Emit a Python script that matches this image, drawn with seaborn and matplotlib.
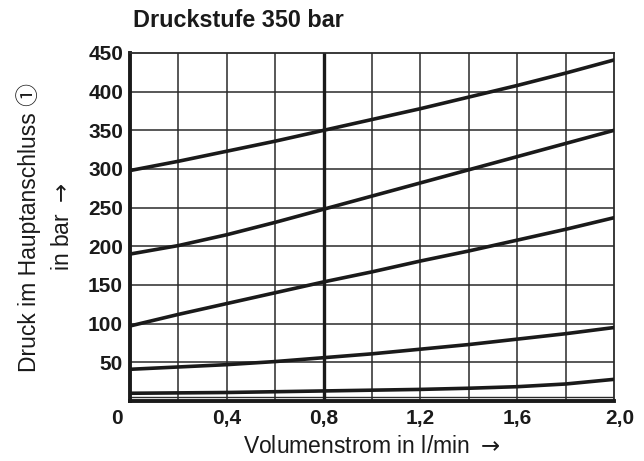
import matplotlib
matplotlib.use('Agg')
import matplotlib.pyplot as plt
from matplotlib.transforms import ScaledTranslation
import seaborn as sns
import pandas as pd
import numpy as np

# Werte
volumenstrom = [0.0, 0.2, 0.4, 0.6, 0.8, 1.0, 1.2, 1.4, 1.6, 1.8, 2.0]
kurve_300 = [298, 310, 323, 336, 350, 364, 378, 393, 408, 424, 441]
kurve_190 = [190, 201, 215, 231, 248, 265, 282, 299, 316, 333, 350]
kurve_100 = [97, 112, 126, 140, 154, 167, 181, 194, 208, 222, 237]
kurve_40 = [41, 44, 47, 51, 56, 61, 67, 73, 80, 87, 95]
kurve_10 = [10, 10.5, 11, 12, 13, 14, 15, 16.5, 18.5, 22, 28]

x_ticks = [0.0, 0.4, 0.8, 1.2, 1.6, 2.0]
x_labels = ['0', '0,4', '0,8', '1,2', '1,6', '2,0']
y_ticks = [50, 100, 150, 200, 250, 300, 350, 400, 450]

kurven = {'300': kurve_300, '190': kurve_190, '100': kurve_100, '40': kurve_40, '10': kurve_10}
df = pd.DataFrame([
    {'x': x, 'p': p, 'kurve': name}
    for name, werte in kurven.items()
    for x, p in zip(volumenstrom, werte)
])

sns.set_style('white')
plt.rcParams['font.family'] = ['Liberation Sans', 'Noto Sans CJK SC', 'DejaVu Sans']
plt.rcParams['mathtext.fontset'] = 'dejavusans'

fig = plt.figure(figsize=(6.44, 4.61), dpi=100)
ax = fig.add_axes([130/644, 1 - 401/461, 484/644, 348/461])

ax.set_xlim(0, 2.0)
ax.set_ylim(0, 450)

# Gitter
gitter = '#2a2a2a'
for gx in np.arange(0.2, 2.0, 0.2):
    ax.axvline(gx, color=gitter, lw=1.1, zorder=1)
for gy in range(50, 450, 50):
    ax.axhline(gy, color=gitter, lw=1.1, zorder=1)
ax.axhline(5, color=gitter, lw=1.0, zorder=1)
ax.axvline(0.8, color='#1a1a1a', lw=2.4, zorder=2)

sns.lineplot(data=df, x='x', y='p', units='kurve', estimator=None,
             color='#1a1a1a', lw=2.6, ax=ax, zorder=3, legend=False)

for side in ['top', 'right']:
    ax.spines[side].set_linewidth(1.3)
    ax.spines[side].set_color(gitter)
for side in ['left', 'bottom']:
    ax.spines[side].set_linewidth(2.8)
    ax.spines[side].set_color('#1a1a1a')

ax.set_xticks(x_ticks)
ax.set_xticklabels(x_labels, fontsize=15, fontweight='bold')
ax.set_yticks(y_ticks)
ax.set_yticklabels([str(v) for v in y_ticks], fontsize=15, fontweight='bold')
ax.tick_params(axis='both', length=0, colors='#1a1a1a')
ax.tick_params(axis='x', pad=6)
ax.tick_params(axis='y', pad=5)

lbls = ax.get_xticklabels()
lbls[0].set_transform(lbls[0].get_transform() + ScaledTranslation(-13/100, 0, fig.dpi_scale_trans))
lbls[-1].set_transform(lbls[-1].get_transform() + ScaledTranslation(6/100, 0, fig.dpi_scale_trans))

ax.set_xlabel('Volumenstrom in l/min $\\rightarrow$', fontsize=16.5, color='#1a1a1a', labelpad=5)
ax.set_ylabel('Druck im Hauptanschluss ①\nin bar $\\rightarrow$', fontsize=16.5, color='#1a1a1a',
              labelpad=10, linespacing=1.55)

fig.text(133/644, 1 - 27/461, 'Druckstufe 350 bar', fontsize=16.8, fontweight='bold',
         color='#1a1a1a', va='baseline', ha='left')

fig.savefig('out.png', dpi=100)
